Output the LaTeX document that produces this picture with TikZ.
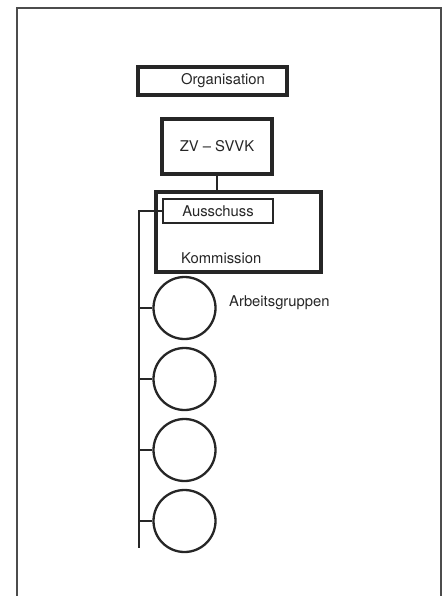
\documentclass[tikz,border=0pt]{standalone}
\usepackage{fontspec}
\setmainfont{TeX Gyre Heros}
\usetikzlibrary{positioning}
\tikzset{%
  font=\fontsize{14.8}{17}\selectfont,
  ink/.style={draw=black!85,text=black!85},
  box/.style={ink,rectangle,line width=3.2pt,inner sep=0pt},
  boxthin/.style={ink,rectangle,line width=2pt,inner sep=0pt},
  group/.style={ink,circle,line width=2.3pt,minimum size=62pt,inner sep=0pt},
  line/.style={draw=black!85,line width=2pt},
  frame/.style={draw=black!70,line width=1.6pt},
  txt/.style={text=black!85,inner sep=0pt,anchor=base west}
}
\begin{document}
\begin{tikzpicture}[x=1pt,y=-1pt]
  \useasboundingbox (0,0) rectangle (443,596);
  \draw[frame] (17,596) -- (17,8) -- (441,8) -- (441,596);
  % Kopf
  \node[box,minimum width=149pt,minimum height=28pt] (org) at (212.5,81) {\hspace{21pt}Organisation};
  \node[box,minimum width=110pt,minimum height=55pt] (zv) at (217,146.5) {ZV -- SVVK};
  \node[box,minimum width=165pt,minimum height=80pt] (kom) at (238.5,232) {};
  \node[txt] (komtext) at (181,263) {Kommission};
  \node[boxthin,minimum width=110pt,minimum height=24pt] (aus) at (218,211) {Ausschuss};
  \draw[line] (zv.south) -- (zv.south |- kom.north);
  % Arbeitsgruppen
  \coordinate (busend) at (139,548);
  \draw[line] (aus.west) -| (busend);
  \foreach \i/\y in {1/308,2/379,3/450,4/521} {
    \node[group] (ag\i) at (184.5,\y) {};
    \draw[line] (ag\i.west) -- (ag\i.west -| busend);
  }
  \node[txt] (agtext) at (229,306) {Arbeitsgruppen};
\end{tikzpicture}
\end{document}
